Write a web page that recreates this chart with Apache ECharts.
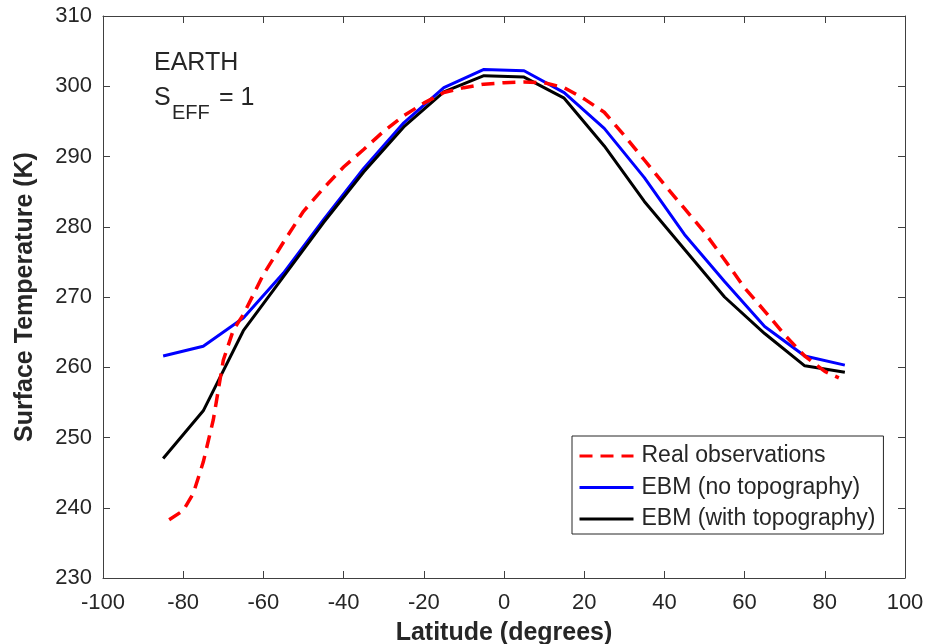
<!DOCTYPE html>
<html>
<head>
<meta charset="utf-8">
<script src="https://cdn.jsdelivr.net/npm/echarts@6/dist/echarts.min.js"></script>
<style>html,body{margin:0;padding:0;background:#fff}#c{width:927px;height:644px}</style>
</head>
<body>
<div id="c"></div>
<script>
// Latitudes of EBM bands
const ebmLat = [-85,-75,-65,-55,-45,-35,-25,-15,-5,5,15,25,35,45,55,65,75,85];
const ebmNoTopo = [261.6,263.0,267.0,273.4,281.0,288.3,294.8,299.8,302.4,302.2,299.1,294.0,287.0,278.9,272.2,265.8,261.6,260.3];
const ebmTopo   = [247.0,253.8,265.2,272.9,280.6,287.8,294.2,299.2,301.5,301.3,298.3,291.5,283.6,276.8,270.0,264.8,260.2,259.3];
// Observations
const obsLat = [-83.5,-80,-77.5,-75,-72.5,-70,-67.5,-65,-60,-55,-50,-45,-40,-35,-30,-25,-20,-15,-10,-5,0,5,10,15,20,25,30,35,40,45,50,55,60,65,70,75,80,83.5];
const obsT   = [238.3,239.6,242.0,246.5,252.5,261.0,265.3,267.5,273.2,277.8,282.2,285.5,288.5,291.0,293.6,295.8,297.6,299.1,299.8,300.3,300.5,300.6,300.5,299.8,298.2,296.3,293.0,289.5,286.0,282.6,279.2,275.3,271.3,268.0,264.6,261.6,259.4,258.5];
const seriesNames = ['Real observations','EBM (no topography)','EBM (with topography)'];
const xTicks = {min:-100, max:100, step:20};
const yTicks = {min:230, max:310, step:10};

const FONT = "'Liberation Sans', Arial, Helvetica, sans-serif";
const AX = '#404040', TXT = '#262626';
const zip = (a,b) => a.map((v,i)=>[v,b[i]]);

const chart = echarts.init(document.getElementById('c'), null, {renderer:'canvas'});
const baseX = {type:'value', min:xTicks.min, max:xTicks.max, interval:xTicks.step,
  axisLine:{show:true, onZero:false, lineStyle:{color:AX,width:1}},
  axisTick:{show:true, inside:true, length:7, lineStyle:{color:AX}},
  splitLine:{show:false}};
const baseY = {type:'value', min:yTicks.min, max:yTicks.max, interval:yTicks.step,
  axisLine:{show:true, onZero:false, lineStyle:{color:AX,width:1}},
  axisTick:{show:true, inside:true, length:7, lineStyle:{color:AX}},
  splitLine:{show:false}};

chart.setOption({
  animation:false,
  backgroundColor:'#fff',
  textStyle:{fontFamily:FONT},
  grid:{left:103, right:22, top:16, bottom:66, containLabel:false, outerBoundsMode:'none'},
  xAxis:[
    Object.assign({}, baseX, {position:'bottom',
      axisLabel:{show:true, fontSize:22, color:TXT, margin:14, fontFamily:FONT},
      name:'Latitude (degrees)', nameLocation:'middle', nameGap:43,
      nameTextStyle:{fontSize:25, fontWeight:'bold', color:TXT, fontFamily:FONT}}),
    Object.assign({}, baseX, {position:'top', axisLabel:{show:false}})
  ],
  yAxis:[
    Object.assign({}, baseY, {position:'left',
      axisLabel:{show:true, fontSize:22, color:TXT, margin:11, fontFamily:FONT},
      name:'Surface Temperature (K)', nameLocation:'middle', nameGap:65, nameRotate:90,
      nameTextStyle:{fontSize:25, fontWeight:'bold', color:TXT, fontFamily:FONT}}),
    Object.assign({}, baseY, {position:'right', axisLabel:{show:false}})
  ],
  legend:{
    data:seriesNames, orient:'vertical', left:572, top:436,
    itemWidth:54, itemHeight:23, itemGap:8.5,
    padding:[8.5,8,3.5,6],
    borderColor:'#262626', borderWidth:1, backgroundColor:'#fff',
    itemStyle:{opacity:0},
    lineStyle:{width:3},
    textStyle:{fontSize:23, color:TXT, fontFamily:FONT, padding:[0,0,0,3]}
  },
  graphic:[
    {type:'text', left:154, top:51, style:{text:'EARTH', fill:TXT, font:'25px '+FONT}},
    {type:'text', left:154, top:86, style:{text:'S', fill:TXT, font:'25px '+FONT}},
    {type:'text', left:172, top:103, style:{text:'EFF', fill:TXT, font:'20px '+FONT}},
    {type:'text', left:219, top:86, style:{text:'= 1', fill:TXT, font:'25px '+FONT}}
  ],
  series:[
    {name:seriesNames[0], type:'line', data:zip(obsLat, obsT), showSymbol:false, symbol:'none', z:5,
     lineStyle:{color:'#ff0000', width:3.5, type:[13,8]}, itemStyle:{color:'#ff0000'}},
    {name:seriesNames[1], type:'line', data:zip(ebmLat, ebmNoTopo), showSymbol:false, symbol:'none', z:3,
     lineStyle:{color:'#0000ff', width:3}, itemStyle:{color:'#0000ff'}},
    {name:seriesNames[2], type:'line', data:zip(ebmLat, ebmTopo), showSymbol:false, symbol:'none', z:4,
     lineStyle:{color:'#000000', width:3}, itemStyle:{color:'#000000'}}
  ]
});
</script>
</body>
</html>
